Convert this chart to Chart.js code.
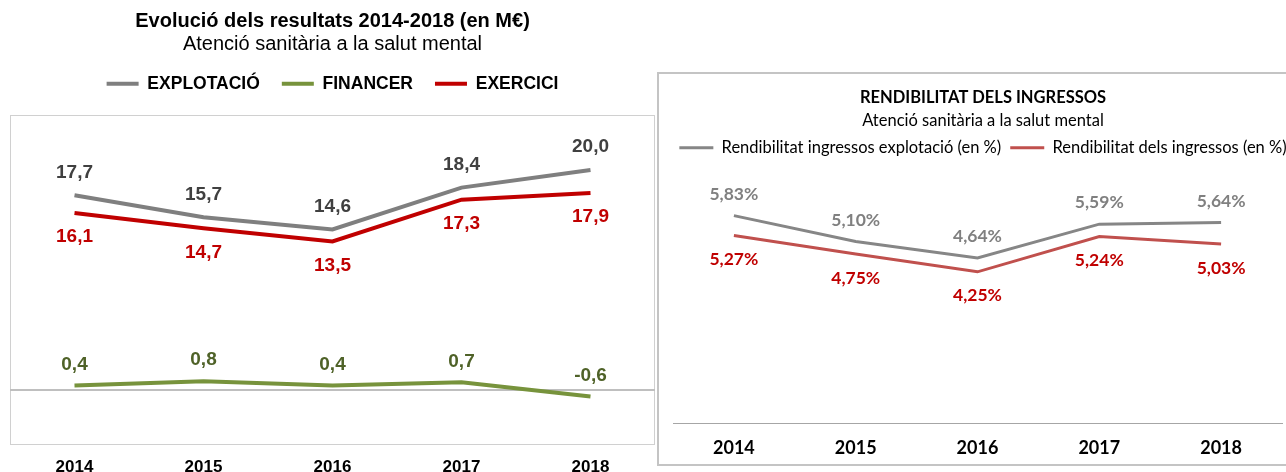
<!DOCTYPE html>
<html>
<head>
<meta charset="utf-8">
<script src="https://cdn.jsdelivr.net/npm/chart.js@4.4.1/dist/chart.umd.min.js"></script>
<style>
  html, body { margin: 0; padding: 0; background: #fff; overflow: hidden; }
  body { width: 1286px; height: 472px; position: relative; }
  #results { position: absolute; left: 0; top: 0; }
  #box { position: absolute; left: 657px; top: 72px; width: 700px; height: 394px;
         border: 2px solid #c4c4c4; box-sizing: border-box; }
  #ratio { position: absolute; left: 658px; top: 72px; }
</style>
</head>
<body>
<canvas id="results" width="658" height="480"></canvas>
<div id="box"></div>
<canvas id="ratio" width="650" height="400"></canvas>
<script>
// Chart data (values in M€ and %)
const years = ['2014', '2015', '2016', '2017', '2018'];
const explotacio = [17.7, 15.7, 14.6, 18.4, 20.0];
const financer = [0.4, 0.8, 0.4, 0.7, -0.6];
const exercici = [16.1, 14.7, 13.5, 17.3, 17.9];
const rendExplotacio = [5.83, 5.10, 4.64, 5.59, 5.64];
const rendIngressos = [5.27, 4.75, 4.25, 5.24, 5.03];

const ARIAL = "'Liberation Sans', Arial, sans-serif";
const CALIBRI = "Lato, 'Open Sans', sans-serif";

/**
 * Catalan number format: comma as decimal separator
 */
function fmt(value, digits) {
    return value.toFixed(digits).replace('.', ',');
}

/**
 * Draw the value next to every point, using the dataset's pointLabel settings
 */
const pointLabels = {
    id: 'pointLabels',
    afterDatasetsDraw(chart) {
        const ctx = chart.ctx;
        chart.data.datasets.forEach((ds, i) => {
            const opt = ds.pointLabel;
            const meta = chart.getDatasetMeta(i);
            if (!opt || meta.hidden) return;
            ctx.save();
            ctx.font = opt.font;
            ctx.fillStyle = opt.color;
            ctx.textAlign = 'center';
            ctx.textBaseline = 'middle';
            meta.data.forEach((pt, j) => {
                ctx.fillText(opt.format(ds.data[j]), pt.x, pt.y + opt.offset);
            });
            ctx.restore();
        });
    }
};

/**
 * Thin frame around the plot area
 */
const plotFrame = {
    id: 'plotFrame',
    beforeDraw(chart, args, opts) {
        if (!opts.color) return;
        const {left, top, right, bottom} = chart.chartArea;
        const ctx = chart.ctx;
        ctx.save();
        ctx.strokeStyle = opts.color;
        ctx.lineWidth = 1;
        ctx.strokeRect(Math.round(left) + 0.5, Math.round(top) + 0.5,
            Math.round(right - left) - 1, Math.round(bottom - top) - 1);
        ctx.restore();
    }
};

/**
 * Extra space between the legend and the plot
 */
const legendGap = {
    id: 'legendGap',
    afterInit(chart, args, opts) {
        const legend = chart.legend;
        if (!legend) return;
        const fit = legend.fit;
        legend.fit = function () {
            fit.call(this);
            this.height += opts.gap || 0;
        };
    }
};

// Legend entries drawn as short flat lines
function lineLegendItems(chart) {
    return Chart.defaults.plugins.legend.labels.generateLabels(chart).map(item => ({
        ...item,
        fillStyle: item.strokeStyle,
        lineWidth: 0
    }));
}

// Invisible side axis that only reserves some width
function spacerAxis(position, width) {
    return {
        position: position,
        min: 0,
        max: 1,
        ticks: { display: false },
        grid: { display: false, drawTicks: false },
        border: { display: false },
        afterFit: scale => { scale.width = width; }
    };
}

// Left chart: results
new Chart(document.getElementById('results'), {
    type: 'line',
    data: {
        labels: years,
        datasets: [
            {
                label: 'EXPLOTACIÓ',
                data: explotacio,
                borderColor: '#7f7f7f',
                backgroundColor: '#7f7f7f',
                borderWidth: 4,
                pointRadius: 0,
                pointLabel: { font: `bold 19px ${ARIAL}`, color: '#404040', offset: -23, format: v => fmt(v, 1) }
            },
            {
                label: 'FINANCER',
                data: financer,
                borderColor: '#77933c',
                backgroundColor: '#77933c',
                borderWidth: 4,
                pointRadius: 0,
                pointLabel: { font: `bold 19px ${ARIAL}`, color: '#4f6228', offset: -21, format: v => fmt(v, 1) }
            },
            {
                label: 'EXERCICI',
                data: exercici,
                borderColor: '#c00000',
                backgroundColor: '#c00000',
                borderWidth: 4,
                pointRadius: 0,
                pointLabel: { font: `bold 19px ${ARIAL}`, color: '#c00000', offset: 24, format: v => fmt(v, 1) }
            }
        ]
    },
    options: {
        responsive: false,
        animation: false,
        layout: { padding: { left: 10, right: 3, top: 0, bottom: 0 } },
        plugins: {
            title: {
                display: true,
                text: 'Evolució dels resultats 2014-2018 (en M€)',
                color: '#000',
                font: { family: ARIAL, size: 20, weight: 'bold' },
                padding: { top: 9, bottom: 0 }
            },
            subtitle: {
                display: true,
                text: 'Atenció sanitària a la salut mental',
                color: '#000',
                font: { family: ARIAL, size: 20 },
                padding: { top: -1, bottom: -3 }
            },
            legend: {
                labels: {
                    color: '#000',
                    font: { family: ARIAL, size: 17.5, weight: 'bold' },
                    boxWidth: 32,
                    boxHeight: 4,
                    padding: 22,
                    generateLabels: lineLegendItems
                }
            },
            legendGap: { gap: 12.5 },
            plotFrame: { color: '#d0d0d0' },
            tooltip: { enabled: false }
        },
        scales: {
            x: {
                offset: true,
                grid: { display: false, drawTicks: false },
                border: { display: false },
                ticks: { color: '#000', font: { family: ARIAL, size: 17, weight: 'bold' }, padding: 12.5 },
                afterFit: scale => { scale.height = 35; }
            },
            y: {
                min: -5,
                max: 25,
                border: { display: false },
                ticks: { display: false, stepSize: 5 },
                grid: {
                    drawTicks: false,
                    lineWidth: 2,
                    color: ctx => (ctx.tick && ctx.tick.value === 0) ? '#bfbfbf' : 'rgba(0,0,0,0)'
                }
            }
        }
    },
    plugins: [legendGap, plotFrame, pointLabels]
});

// Right chart: income profitability
new Chart(document.getElementById('ratio'), {
    type: 'line',
    data: {
        labels: years,
        datasets: [
            {
                label: 'Rendibilitat ingressos explotació (en %)',
                data: rendExplotacio,
                borderColor: '#868686',
                backgroundColor: '#868686',
                borderWidth: 3,
                pointRadius: 0,
                pointLabel: { font: `bold 17.5px ${CALIBRI}`, color: '#808080', offset: -21.5, format: v => fmt(v, 2) + '%' }
            },
            {
                label: 'Rendibilitat dels ingressos (en %)',
                data: rendIngressos,
                borderColor: '#c0504d',
                backgroundColor: '#c0504d',
                borderWidth: 3,
                pointRadius: 0,
                pointLabel: { font: `bold 17.5px ${CALIBRI}`, color: '#c00000', offset: 24, format: v => fmt(v, 2) + '%' }
            }
        ]
    },
    options: {
        responsive: false,
        animation: false,
        layout: { padding: 0 },
        plugins: {
            title: {
                display: true,
                text: 'RENDIBILITAT DELS INGRESSOS',
                color: '#000',
                font: { family: CALIBRI, size: 16.5, weight: 'bold' },
                padding: { top: 16, bottom: 0 }
            },
            subtitle: {
                display: true,
                text: 'Atenció sanitària a la salut mental',
                color: '#000',
                font: { family: CALIBRI, size: 16.5 },
                padding: { top: 3, bottom: 0 }
            },
            legend: {
                labels: {
                    color: '#000',
                    font: { family: CALIBRI, size: 16.5 },
                    boxWidth: 34,
                    boxHeight: 3,
                    padding: 9,
                    generateLabels: lineLegendItems
                }
            },
            legendGap: { gap: 7.9 },
            tooltip: { enabled: false }
        },
        scales: {
            x: {
                offset: true,
                grid: { display: false, drawTicks: false },
                border: { display: true, color: '#a6a6a6', width: 1 },
                ticks: { color: '#000', font: { family: CALIBRI, size: 18, weight: 'bold' }, padding: 14.5 },
                afterFit: scale => { scale.height = 49; }
            },
            y: { ...spacerAxis('left', 15), min: 0, max: 7 },
            yRight: spacerAxis('right', 26)
        }
    },
    plugins: [legendGap, pointLabels]
});
</script>
</body>
</html>
